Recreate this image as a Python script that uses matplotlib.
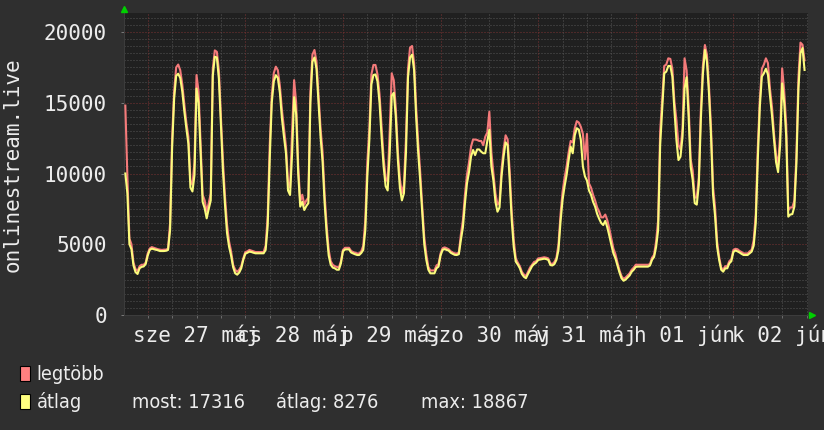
import matplotlib
matplotlib.use("Agg")
import matplotlib.pyplot as plt
from matplotlib import font_manager as fm
from matplotlib.patches import Rectangle
import matplotlib.transforms as mtrans
import numpy as np

# ---------------- data ----------------
start_hour = -5.5          # hours relative to 27 May 00:00
step_hours = 0.5

avg_values = [
    # 26 May evening
    10000, 8600, 5000, 4650, 3500, 3030, 2900, 3300, 3400, 3430, 3600,
    # 27 May
    4200, 4600, 4690, 4650, 4610, 4580, 4520, 4520, 4520, 4540, 4600, 6000,
    11800, 15300, 16900, 17050, 16750, 15800, 14400, 13200, 12100, 9000, 8730, 9900,
    16000, 15000, 11500, 8000, 7550, 6830, 7500, 8100, 16900, 18250, 18200, 16700,
    13500, 10200, 7800, 5800, 4830, 4200, 3380, 2950, 2850, 3000, 3300, 3900,
    # 28 May
    4330, 4400, 4480, 4450, 4400, 4360, 4360, 4360, 4360, 4360, 4600, 6300,
    11000, 15000, 16500, 16950, 16750, 15700, 13900, 12600, 11430, 8800, 8480, 11400,
    15400, 14200, 10000, 7660, 8000, 7420, 7700, 7900, 15000, 17900, 18200, 17400,
    15000, 12600, 10800, 7900, 5770, 4200, 3550, 3350, 3300, 3200, 3200, 3650,
    # 29 May
    4500, 4630, 4640, 4640, 4420, 4350, 4290, 4240, 4240, 4380, 4600, 6000,
    9800, 12400, 16300, 16960, 17000, 16500, 15000, 12600, 10500, 9100, 8800, 11430,
    15500, 15700, 14000, 11000, 9000, 8100, 8600, 11500, 16800, 18200, 18400, 17320,
    14000, 11500, 9500, 7190, 5000, 3900, 3200, 2945, 2945, 2945, 3300, 3420,
    # 30 May
    4200, 4600, 4660, 4600, 4550, 4400, 4320, 4250, 4240, 4300, 5300, 6200,
    7890, 9300, 10100, 11200, 11660, 11300, 11700, 11700, 11540, 11430, 11430, 12300,
    13080, 10500, 9500, 8000, 7300, 7600, 9800, 11200, 12200, 12000, 9540, 6710,
    4800, 3770, 3560, 3300, 2900, 2700, 2600, 2900, 3180, 3450, 3600, 3700,
    # 31 May
    3890, 3920, 3950, 3980, 3950, 3890, 3530, 3500, 3600, 3900, 4600, 6600,
    8130, 9100, 9900, 10950, 11900, 11430, 12700, 13200, 13100, 12370, 10500, 9800,
    9500, 8800, 8500, 8000, 7660, 7150, 6800, 6500, 6360, 6650, 6200, 5600,
    4950, 4360, 4000, 3500, 3000, 2590, 2420, 2500, 2650, 2800, 3060, 3200,
    # 01 Jun
    3400, 3420, 3420, 3420, 3420, 3420, 3420, 3500, 3900, 4100, 4800, 6000,
    12000, 14500, 17080, 17200, 17600, 17600, 16850, 14500, 12370, 10950, 11190, 12600,
    16000, 16800, 14000, 10480, 9540, 7900, 7800, 9200, 13800, 17000, 18730, 17900,
    15670, 12700, 8500, 7000, 4830, 3890, 3200, 3060, 3300, 3300, 3650, 3800,
    # 02 Jun
    4450, 4560, 4500, 4420, 4320, 4240, 4240, 4240, 4360, 4480, 4900, 6500,
    10950, 14700, 16850, 17080, 17400, 17000, 15500, 14100, 12370, 10800, 10100, 12000,
    16370, 15000, 12600, 6950, 7100, 7130, 7660, 10700, 16000, 18500, 18867, 17316,
]

max_values = [
    # 26 May evening
    14800, 9800, 5400, 5000, 3700, 3250, 3100, 3450, 3550, 3550, 3700,
    # 27 May
    4350, 4700, 4800, 4750, 4700, 4650, 4620, 4600, 4620, 4620, 4700, 6500,
    12500, 15800, 17500, 17700, 17300, 16300, 14900, 13600, 12600, 9500, 9200, 10800,
    16960, 15800, 12200, 8500, 8100, 7300, 7900, 8600, 17400, 18700, 18600, 17300,
    14000, 10900, 8400, 6400, 5200, 4500, 3550, 3200, 3050, 3200, 3450, 4000,
    # 28 May
    4450, 4500, 4600, 4550, 4500, 4450, 4450, 4450, 4450, 4450, 4900, 7000,
    12000, 15500, 17100, 17550, 17300, 16200, 14500, 13200, 11900, 9400, 9000, 13000,
    16600, 15000, 10600, 8000, 8500, 7800, 8100, 8300, 15800, 18400, 18730, 17900,
    15600, 13200, 11500, 8500, 6300, 4600, 3800, 3550, 3450, 3400, 3350, 3800,
    # 29 May
    4600, 4750, 4750, 4750, 4530, 4450, 4400, 4350, 4350, 4500, 4900, 6700,
    10800, 13200, 17000, 17670, 17670, 17000, 15600, 13300, 11100, 9700, 9400, 13000,
    17080, 16600, 14600, 11600, 9600, 8600, 9200, 12500, 17400, 18900, 19010, 17800,
    14700, 12200, 10100, 7700, 5500, 4300, 3400, 3150, 3150, 3150, 3500, 3600,
    # 30 May
    4350, 4720, 4780, 4720, 4650, 4500, 4420, 4350, 4350, 4400, 5700, 6700,
    8500, 9900, 10800, 11900, 12400, 12400, 12370, 12300, 12300, 12000, 12600, 12900,
    14370, 11500, 10000, 8600, 7800, 8000, 10300, 11700, 12700, 12400, 10200, 7300,
    5300, 4000, 3700, 3450, 3050, 2850, 2750, 3050, 3350, 3550, 3750, 3800,
    # 31 May
    4000, 4020, 4050, 4080, 4050, 4000, 3650, 3600, 3750, 4050, 5000, 7100,
    8700, 9700, 10500, 11500, 12300, 12200, 13200, 13700, 13600, 13300, 12800, 11000,
    12800, 9300, 9000, 8500, 8100, 7600, 7300, 6900, 6900, 7100, 6700, 6100,
    5400, 4700, 4300, 3700, 3150, 2750, 2550, 2650, 2800, 2950, 3200, 3350,
    # 01 Jun
    3550, 3550, 3550, 3550, 3550, 3550, 3550, 3600, 4050, 4250, 5200, 6700,
    13000, 15200, 17600, 17700, 18140, 18100, 17400, 15100, 13780, 12000, 11700, 13200,
    18140, 17300, 14800, 11000, 10200, 8300, 8300, 9700, 14500, 17600, 19080, 18400,
    16200, 13300, 9100, 7600, 5200, 4100, 3350, 3200, 3450, 3450, 3800, 3950,
    # 02 Jun
    4600, 4680, 4650, 4530, 4450, 4350, 4350, 4350, 4500, 4600, 5300, 7100,
    11800, 15200, 17400, 17700, 18140, 17800, 16000, 14700, 12800, 11300, 10600, 12800,
    17430, 15800, 13400, 7400, 7600, 7600, 8100, 11300, 16800, 19250, 19100, 18000,
]

day_labels = ["sze 27 máj", "cs 28 máj", "p 29 máj", "szo 30 máj",
              "v 31 máj", "h 01 jún", "k 02 jún"]
y_ticks = [0, 5000, 10000, 15000, 20000]
y_axis_title = "onlinestream.live"
legend_names = ["legtöbb", "átlag"]
stats_labels = ["most: 17316", "átlag: 8276", "max: 18867"]

# ---------------- style ----------------
W, H = 824, 430
DPI = 100
BG = "#2f2f2f"
PLOT_BG = "#202020"
TXT = "#ececec"
RED = "#f47a7a"
YEL = "#fbfb7c"
MINOR_GRID = "#555555"
MAJOR_GRID = "#7a3232"

mono = "DejaVu Sans Mono"


def find_condensed():
    prefs = []
    for f in fm.fontManager.ttflist:
        n = f.name
        st = str(f.stretch)
        if f.style != "normal" or f.weight not in (400, "normal", "regular", "book"):
            continue
        if n == "Liberation Sans Narrow":
            prefs.append((0, f.fname))
        elif n.startswith("DejaVu Sans") and ("ondensed" in n or st in ("condensed", "semi-condensed")) and "Mono" not in n:
            prefs.append((1, f.fname))
        elif "Condensed" in n or "Narrow" in n:
            prefs.append((2, f.fname))
    if prefs:
        prefs.sort()
        return prefs[0][1]
    return None


cond_path = find_condensed()
if cond_path:
    legend_font = fm.FontProperties(fname=cond_path, size=14.2)
else:
    legend_font = fm.FontProperties(family=mono, size=10.5)

hours = start_hour + step_hours * np.arange(len(avg_values))

fig = plt.figure(figsize=(W / DPI, H / DPI), dpi=DPI, facecolor=BG)
ax_l, ax_r, ax_t, ax_b = 124, 808, 13, 315
ax = fig.add_axes([ax_l / W, 1 - ax_b / H, (ax_r - ax_l) / W, (ax_b - ax_t) / H])
ax.set_facecolor(PLOT_BG)

x0, x1 = -5.83, 162.35
y_top = 20000 * (ax_b - ax_t) / (ax_b - 32)
ax.set_xlim(x0, x1)
ax.set_ylim(0, y_top)

# grids
dots = (0, (1, 2))
for v in np.arange(500, y_top, 500):
    if v % 5000:
        ax.axhline(v, color=MINOR_GRID, lw=0.72, ls=dots, zorder=1)
for v in y_ticks[1:]:
    ax.axhline(v, color=MAJOR_GRID, lw=0.72, ls=dots, zorder=1)
for d in range(-1, 8):
    for q in (6, 12, 18):
        hx = d * 24 + q
        if x0 < hx < x1:
            ax.axvline(hx, color=MINOR_GRID, lw=0.72, ls=dots, zorder=1)
    if x0 < d * 24 < x1:
        ax.axvline(d * 24, color=MAJOR_GRID, lw=0.72, ls=dots, zorder=1)

# series
ax.plot(hours, max_values, color=RED, lw=1.5, zorder=3)
ax.plot(hours, avg_values, color=YEL, lw=1.5, zorder=4)

# axes ticks
ax.set_yticks(y_ticks)
ax.set_yticklabels([str(v) for v in y_ticks], fontfamily=mono, fontsize=15, color=TXT)
ax.tick_params(axis="y", length=2.2, width=0.72, color="#777777", pad=10)
minor_x = [d * 24 + q for d in range(-1, 8) for q in (0, 6, 12, 18) if x0 < d * 24 + q < x1]
ax.set_xticks(minor_x)
ax.set_xticklabels([])
ax.tick_params(axis="x", length=2.2, width=0.72, color="#6a6a6a", pad=2)
for s in ("top", "right"):
    ax.spines[s].set_visible(False)
for s in ("bottom", "left"):
    ax.spines[s].set_color("#3c3c3c")
    ax.spines[s].set_linewidth(0.72)

# day labels centred at noon
label_y = -(324 - ax_b) / (ax_b - ax_t)
trans = mtrans.blended_transform_factory(ax.transData, ax.transAxes)
for i, lab in enumerate(day_labels):
    ax.text(i * 24 + 12, label_y, lab, transform=trans, ha="center", va="top",
            fontfamily=mono, fontsize=15, color=TXT, clip_on=False)

# axis arrows
ax.plot([0], [1.0 + 4 / (ax_b - ax_t)], marker="^", ms=4.5, color="#00d000",
        transform=ax.transAxes, clip_on=False, zorder=6)
ax.plot([1.0 + 4 / (ax_r - ax_l)], [0], marker=">", ms=4.5, color="#00d000",
        transform=ax.transAxes, clip_on=False, zorder=6)

# y title
fig.text(13 / W, 1 - 165 / H, y_axis_title, rotation=90, ha="center", va="center",
         fontfamily=mono, fontsize=15, color=TXT)

# legend
box_colors = ["#ff8080", "#ffff80"]
box_tops = [366, 393.5]
baselines = [380.5, 408.5]
for col, top, base, name in zip(box_colors, box_tops, baselines, legend_names):
    fig.patches.append(Rectangle((20 / W, 1 - (top + 15) / H), 10 / W, 15 / H,
                                 transform=fig.transFigure, facecolor=col,
                                 edgecolor="black", lw=0.8))
    fig.text(36.5 / W, 1 - base / H, name, fontproperties=legend_font,
             color=TXT, ha="left", va="baseline")
for xs, lab in zip([132, 276, 421], stats_labels):
    fig.text(xs / W, 1 - baselines[1] / H, lab, fontproperties=legend_font,
             color=TXT, ha="left", va="baseline")

fig.savefig("out.png", dpi=DPI, facecolor=BG)
